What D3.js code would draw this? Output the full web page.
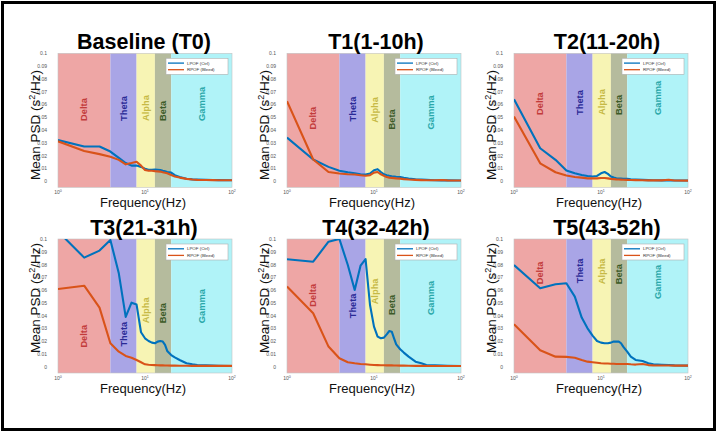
<!DOCTYPE html>
<html><head><meta charset="utf-8">
<script src="https://cdn.jsdelivr.net/npm/d3@7/dist/d3.min.js"></script>
<style>body{margin:0;background:#fff}svg{display:block}</style>
</head><body><svg id="c" width="718" height="432"></svg>
<script>
// ---------- data ----------
const freqs = [1,2,3,4,5,6,7,8,9,10,11,12,13,14,15,16,17,18,20,22,25,30,35,40,50,60,70,100];
const panelTitles = ["Baseline (T0)","T1(1-10h)","T2(11-20h)","T3(21-31h)","T4(32-42h)","T5(43-52h)"];
const ctrlSeries = [
  [.032,.027,.027,.023,.018,.014,.012,.012,.011,.0095,.0088,.0087,.0089,.0088,.0086,.008,.0075,.007,.0065,.0045,.003,.0017,.0012,.001,.0008,.0007,.0006,.0005],
  [.034,.0168,.011,.008,.0068,.006,.0052,.005,.0058,.0084,.0092,.007,.0052,.0045,.004,.0037,.0035,.0033,.0031,.0025,.0018,.0013,.001,.0008,.0005,.0004,.0004,.0003],
  [.064,.0256,.0165,.0081,.006,.0047,.0039,.0034,.0039,.006,.007,.0055,.0034,.0026,.002,.0019,.0018,.0017,.0016,.0013,.0011,.0008,.0006,.0005,.0004,.0004,.0003,.0003],
  [.106,.0854,.0909,.0992,.0731,.039,.0501,.0486,.0269,.0222,.0201,.0188,.0183,.0196,.0201,.0196,.017,.0123,.0091,.0072,.0052,.0026,.0018,.0013,.001,.0008,.0007,.0005],
  [.0841,.0822,.0979,.1,.0796,.06,.0791,.0843,.0483,.0313,.0235,.0222,.0227,.0253,.0279,.0274,.0222,.0175,.0136,.011,.0078,.0039,.0026,.0013,.001,.0008,.0007,.0005],
  [.0796,.0614,.0645,.0653,.0548,.0384,.03,.0243,.0201,.0188,.0183,.0183,.0188,.0196,.0196,.0196,.0183,.0157,.0117,.0078,.0052,.0044,.0026,.0018,.0015,.0013,.001,.0008]
];
const bleedSeries = [
  [.031,.0235,.021,.019,.0165,.013,.014,.015,.012,.0086,.008,.008,.0077,.0075,.0073,.0068,.0064,.006,.0047,.0035,.0026,.0016,.0011,.0008,.0007,.0006,.0005,.0005],
  [.0625,.0168,.007,.0058,.0052,.005,.0045,.004,.0045,.0065,.007,.0052,.004,.003,.0026,.0024,.0022,.002,.0018,.0014,.0011,.0008,.0006,.0005,.0005,.0007,.0004,.0003],
  [.0504,.0138,.0068,.0042,.0031,.0026,.002,.002,.002,.0023,.0023,.002,.0016,.0014,.0012,.0011,.001,.0009,.0008,.0007,.0006,.0005,.0004,.0004,.0004,.0009,.0003,.0002],
  [.0608,.0634,.0462,.0183,.0117,.0084,.007,.0052,.0034,.0018,.0015,.0013,.0012,.0011,.001,.001,.0009,.0009,.0008,.0008,.0007,.0007,.0006,.0006,.0006,.0006,.0006,.0006],
  [.0627,.0418,.0157,.0065,.0034,.0026,.0021,.0018,.0015,.0013,.0012,.0011,.0011,.001,.001,.001,.0009,.0009,.0008,.0008,.0007,.0006,.0006,.0005,.0005,.0005,.0005,.0005],
  [.0332,.0128,.0078,.0076,.007,.0052,.0039,.0034,.003,.0026,.0025,.0024,.0023,.0022,.0021,.0021,.0021,.0021,.0021,.0018,.0016,.0021,.0012,.001,.0009,.0009,.0008,.0008]
];
const bandNames = ["Delta","Theta","Alpha","Beta","Gamma"];
const bandEdges = [1,4,8,13,20,100];
// value (s^2/Hz) where each rotated band label starts, per panel
const bandLabelLevels = [
  [.047,.047,.047,.047,.047],
  [.0403,.0466,.0455,.0403,.0403],
  [.0517,.0517,.0517,.0517,.0517],
  [.0149,.0157,.034,.034,.034],
  [.047,.0379,.0488,.0405,.0405],
  [.0645,.0653,.0645,.0645,.053]
];
const yTickValues = [0,0.01,0.02,0.03,0.04,0.05,0.06,0.07,0.08,0.09,0.1];
const xTickExponents = [0,1,2];
const legendLabels = ["LPOF (Ctrl)","RPOF (Bleed)"];

// ---------- styles / layout ----------
const bandFill = ["#eea6a5","#a9a5e6","#f7f4b4","#b5bb9d","#b0f3f8"];
const bandText = ["#c23b3b","#2a2a96","#c6b945","#3c5a28","#2ba8aa"];
const lineColors = ["#0072bd","#d95319"];
const colLeft = [58, 287, 514];
const titleX = [144, 376, 607];
const rowTop = [53.3, 239];
const yLabelCY = [125, 298];
const plotW = 174, plotH = 134;
const FONT = "'Liberation Sans', Arial, Helvetica, sans-serif";

const svg = d3.select("#c");
svg.append("rect").attr("width",718).attr("height",432).attr("fill","#fff");
svg.append("rect").attr("x",2.5).attr("y",2.5).attr("width",712).attr("height",427)
  .attr("fill","none").attr("stroke","#000").attr("stroke-width",3);

panelTitles.forEach((title, i) => {
  const col = i % 3, row = Math.floor(i / 3);
  const L = colLeft[col], T = rowTop[row];
  const x = d3.scaleLog().domain([1,100]).range([L, L + plotW]);
  const y = d3.scaleLinear().domain([-0.005, 0.1]).range([T + plotH, T]);
  const g = svg.append("g");

  const clipId = "clip" + i;
  g.append("clipPath").attr("id", clipId).append("rect")
    .attr("x", L).attr("y", T).attr("width", plotW).attr("height", plotH);

  // bands
  bandNames.forEach((b, k) => {
    g.append("rect").attr("x", x(bandEdges[k])).attr("y", T)
      .attr("width", x(bandEdges[k+1]) - x(bandEdges[k])).attr("height", plotH)
      .attr("fill", bandFill[k]);
  });
  // plot box
  g.append("rect").attr("x", L).attr("y", T).attr("width", plotW).attr("height", plotH)
    .attr("fill","none").attr("stroke","#c4c4c4").attr("stroke-width",0.6);

  // band labels
  bandNames.forEach((b, k) => {
    const cx = x(Math.sqrt(bandEdges[k] * bandEdges[k+1]));
    const cy = y(bandLabelLevels[i][k]);
    g.append("text").attr("transform", `translate(${cx + 3.3},${cy}) rotate(-90)`)
      .attr("font-family", FONT).attr("font-weight","bold").attr("font-size", 9.3)
      .attr("fill", bandText[k]).text(b);
  });

  // lines
  const line = d3.line().x((d, j) => x(freqs[j])).y(d => y(d));
  [ctrlSeries[i], bleedSeries[i]].forEach((s, k) => {
    g.append("path").datum(s).attr("d", line).attr("fill","none")
      .attr("stroke", lineColors[k]).attr("stroke-width", 2.1)
      .attr("stroke-linejoin","round").attr("clip-path", `url(#${clipId})`);
  });

  // y axis tick labels
  const yAxis = d3.axisLeft(y).tickValues(yTickValues).tickSize(0).tickPadding(0)
    .tickFormat(d => d === 0 ? "0" : d3.format(".2~f")(d));
  const ya = g.append("g").attr("transform", `translate(${L - 11},0)`).call(yAxis);
  ya.select(".domain").remove();
  ya.selectAll("text").attr("font-family", FONT).attr("font-size", 5).attr("fill","#555");

  // x axis tick labels (10^n)
  const xa = g.append("g").attr("transform", `translate(0,${T + plotH})`)
    .call(d3.axisBottom(x).tickValues(xTickExponents.map(e => Math.pow(10, e))).tickSize(0).tickFormat(""));
  xa.select(".domain").remove();
  xTickExponents.forEach(e => {
    const t = g.append("text").attr("x", x(Math.pow(10, e))).attr("y", T + plotH + 7)
      .attr("text-anchor","middle").attr("font-family", FONT).attr("font-size", 5).attr("fill","#555");
    t.append("tspan").text("10");
    t.append("tspan").attr("dy", -2).attr("font-size", 3.6).text(e);
  });

  // legend
  const lx = L + plotW - 66, ly = T + 5;
  g.append("rect").attr("x", lx).attr("y", ly).attr("width", 62).attr("height", 16)
    .attr("fill","#fff").attr("stroke","#b0b0b0").attr("stroke-width",0.6);
  legendLabels.forEach((lab, k) => {
    const yy = ly + 4.8 + k * 6.6;
    g.append("line").attr("x1", lx + 2).attr("x2", lx + 18).attr("y1", yy).attr("y2", yy)
      .attr("stroke", lineColors[k]).attr("stroke-width", 1.3);
    g.append("text").attr("x", lx + 21).attr("y", yy + 1.6).attr("font-family", FONT)
      .attr("font-size", 4.4).attr("fill","#333").text(lab);
  });

  // title
  g.append("text").attr("x", titleX[col]).attr("y", T - 4.5).attr("text-anchor","middle")
    .attr("font-family", FONT).attr("font-weight","bold").attr("font-size", 21.5)
    .attr("fill","#000").text(title);

  // x label
  g.append("text").attr("x", L + plotW / 2 - 2).attr("y", T + 153.6).attr("text-anchor","middle")
    .attr("font-family", FONT).attr("font-size", 13).attr("fill","#111").text("Frequency(Hz)");

  // y label
  const yl = g.append("text").attr("transform", `translate(${L - 18},${yLabelCY[row]}) rotate(-90)`)
    .attr("text-anchor","middle").attr("font-family", FONT).attr("font-size", 13.5).attr("fill","#111");
  yl.append("tspan").text("Mean PSD (s");
  yl.append("tspan").attr("dy", -5).attr("font-size", 9).text("2");
  yl.append("tspan").attr("dy", 5).text("/Hz)");
});
</script>
</body></html>
